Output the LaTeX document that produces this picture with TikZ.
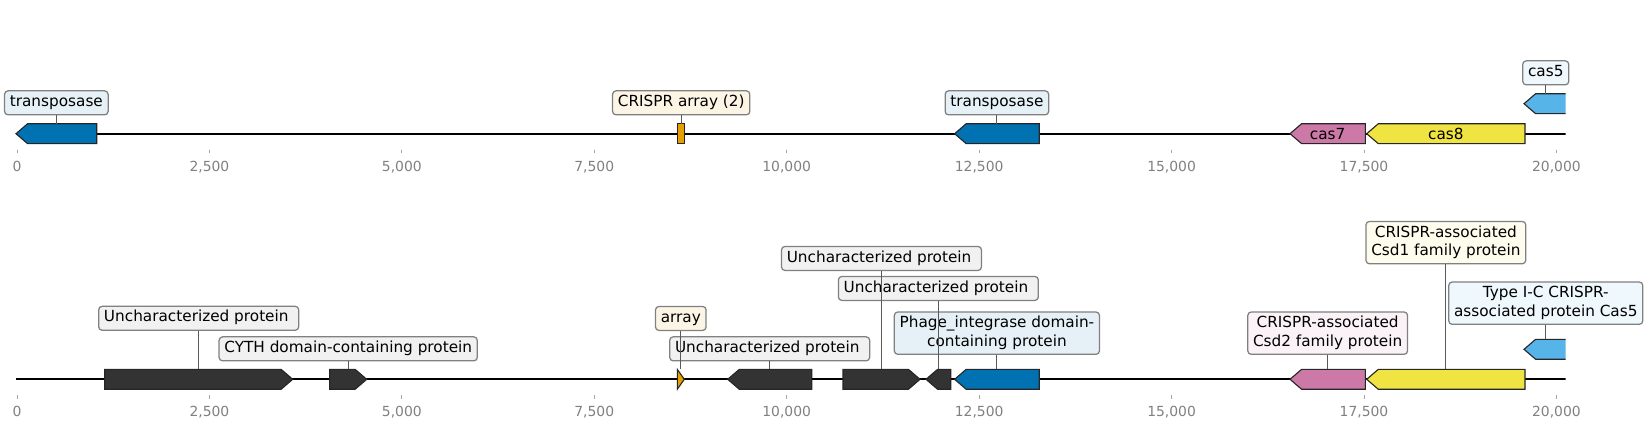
\documentclass[tikz,border=0pt]{standalone}
\usepackage{fontspec}
\setmainfont{DejaVu Sans}
\usepackage{tikz}
\usetikzlibrary{positioning}
\usepackage{xcolor}
\definecolor{cblue}{HTML}{0072B2}
\definecolor{corange}{HTML}{E69F00}
\definecolor{cpink}{HTML}{CC79A7}
\definecolor{cyellow}{HTML}{F0E442}
\definecolor{csky}{HTML}{56B4E9}
\definecolor{cdark}{HTML}{333333}
\definecolor{cgrey}{HTML}{777777}
\tikzset{
	gene/.style={draw=black!85, line width=0.8pt, line join=miter},
	backbone/.style={draw=black, line width=1.5pt},
	lbl/.style={draw=gray, line width=0.9pt, rounded corners=2.5pt, fill=#1!10!white,
		font=\fontsize{11}{13.2}\selectfont, align=center, inner xsep=3.8pt, inner ysep=2.04pt},
	lbl/.default=cgrey,
	conn/.style={draw=black!65, line width=0.6pt},
	tickmark/.style={draw=gray!70, line width=0.6pt},
	ticklbl/.style={text=gray, font=\fontsize{10}{12}\selectfont, inner sep=0pt, text height=7.3pt, text depth=0pt},
	inlbl/.style={font=\fontsize{11}{13.2}\selectfont, inner sep=0pt}
}
% gene arrows: name, start, end, y, colour
\newcommand{\fwdgene}[5]{%
	\draw[gene, fill=#5] (#2,#4-9.9) -- ({max(#2,#3-11.5)},#4-9.9) -- (#3,#4)
		-- ({max(#2,#3-11.5)},#4+9.9) -- (#2,#4+9.9) -- cycle;
	\coordinate (#1) at ({(#2+#3)/2},#4-9.9);
}
\newcommand{\revgene}[5]{%
	\draw[gene, fill=#5] (#3,#4-9.9) -- ({min(#3,#2+11.5)},#4-9.9) -- (#2,#4)
		-- ({min(#3,#2+11.5)},#4+9.9) -- (#3,#4+9.9) -- cycle;
	\coordinate (#1) at ({(#2+#3)/2},#4-9.9);
}

\begin{document}
\begin{tikzpicture}[x=0.72pt, y=-0.72pt]
	\useasboundingbox (0,0) rectangle (1647,428);
	% Backbones and genes
	\begin{scope}
		\clip (0,0) rectangle (1565.7,428);
		\draw[backbone] (16,133.7) -- (1565.7,133.7);
		\draw[backbone] (16,379.3) -- (1565.7,379.3);
		% Top track
		\revgene{tr1}{16}{96.7}{133.7}{cblue}
		\draw[gene, fill=corange] (677.7,123.8) rectangle (684.7,143.6);
		\coordinate (arr1) at (681.2,123.8);
		\revgene{tr2}{954.6}{1039.2}{133.7}{cblue}
		\revgene{cas7}{1290}{1365.3}{133.7}{cpink}
		\revgene{cas8}{1366.7}{1525}{133.7}{cyellow}
		\revgene{cas5}{1524}{1567.5}{103.7}{csky}
		% Bottom track
		\fwdgene{u1}{104.7}{292.7}{379.3}{cdark}
		\fwdgene{cyth}{329.7}{366.7}{379.3}{cdark}
		\fwdgene{arr2}{677.3}{684.3}{379.3}{corange}
		\revgene{u2}{727.7}{811.7}{379.3}{cdark}
		\fwdgene{u3}{843}{920}{379.3}{cdark}
		\revgene{u4}{926}{950.7}{379.3}{cdark}
		\revgene{phage}{954.6}{1039.2}{379.3}{cblue}
		\revgene{csd2}{1290}{1365.3}{379.3}{cpink}
		\revgene{csd1}{1366.7}{1525}{379.3}{cyellow}
		\revgene{cas5b}{1524}{1567.5}{349.3}{csky}
	\end{scope}
	% Ticks (positions in kbp)
	\foreach \y/\r in {133.7/a, 379.3/b} {
		\foreach \v/\t in {0/0, 2.5/{2,500}, 5/{5,000}, 7.5/{7,500}, 10/{10,000},
			12.5/{12,500}, 15/{15,000}, 17.5/{17,500}, 20/{20,000}} {
			\draw[tickmark] ({17+76.97*\v},\y+16) -- ({17+76.97*\v},\y+19.7);
			\node[ticklbl] (t\r-\v) at ({17+76.97*\v},\y+32.3) {\t};
		}
	}
	% Labels, top track
	\node[inlbl] (n-cas7) at (1327.65,133.7) {cas7};
	\node[inlbl] (n-cas8) at (1445.85,133.7) {cas8};
	\node[lbl=cblue, above=6pt of tr1] (l-tr1) {\strut transposase\strut};
	\node[lbl=corange, above=6pt of arr1] (l-arr1) {\strut CRISPR array (2)\strut};
	\node[lbl=cblue, above=6pt of tr2] (l-tr2) {\strut transposase\strut};
	\node[lbl=csky, above=6pt of cas5] (l-cas5) {\strut cas5\strut};
	% Labels, bottom track
	\node[lbl, above=27.7pt of u1] (l-u1) {\strut Uncharacterized protein\ \strut};
	\node[lbl, above=5.7pt of cyth] (l-cyth) {\strut CYTH domain-containing protein\strut};
	\node[lbl=corange, above=27.6pt of arr2] (l-arr2) {\strut array\strut};
	\node[lbl, above=5.7pt of u2] (l-u2) {\strut Uncharacterized protein\ \strut};
	\node[lbl, above=70.8pt of u3] (l-u3) {\strut Uncharacterized protein\ \strut};
	\node[lbl, above=49.2pt of u4] (l-u4) {\strut Uncharacterized protein\ \strut};
	\node[lbl=cblue, above=10.4pt of phage] (l-phage) {\strut Phage\_integrase domain-\\containing protein\strut};
	\node[lbl=cpink, above=10.4pt of csd2] (l-csd2) {\strut CRISPR-associated\\Csd2 family protein\strut};
	\node[lbl=cyellow, above=75.6pt of csd1] (l-csd1) {\strut CRISPR-associated\\Csd1 family protein\strut};
	\node[lbl=csky, above=10.4pt of cas5b] (l-cas5b) {\strut Type I-C CRISPR-\\associated protein Cas5\strut};
	% Connectors
	\foreach \g in {tr1, arr1, tr2, cas5, u1, cyth, arr2, u2, u3, u4, phage, csd2, csd1, cas5b}
		\draw[conn] (l-\g) -- (\g);
\end{tikzpicture}
\end{document}
